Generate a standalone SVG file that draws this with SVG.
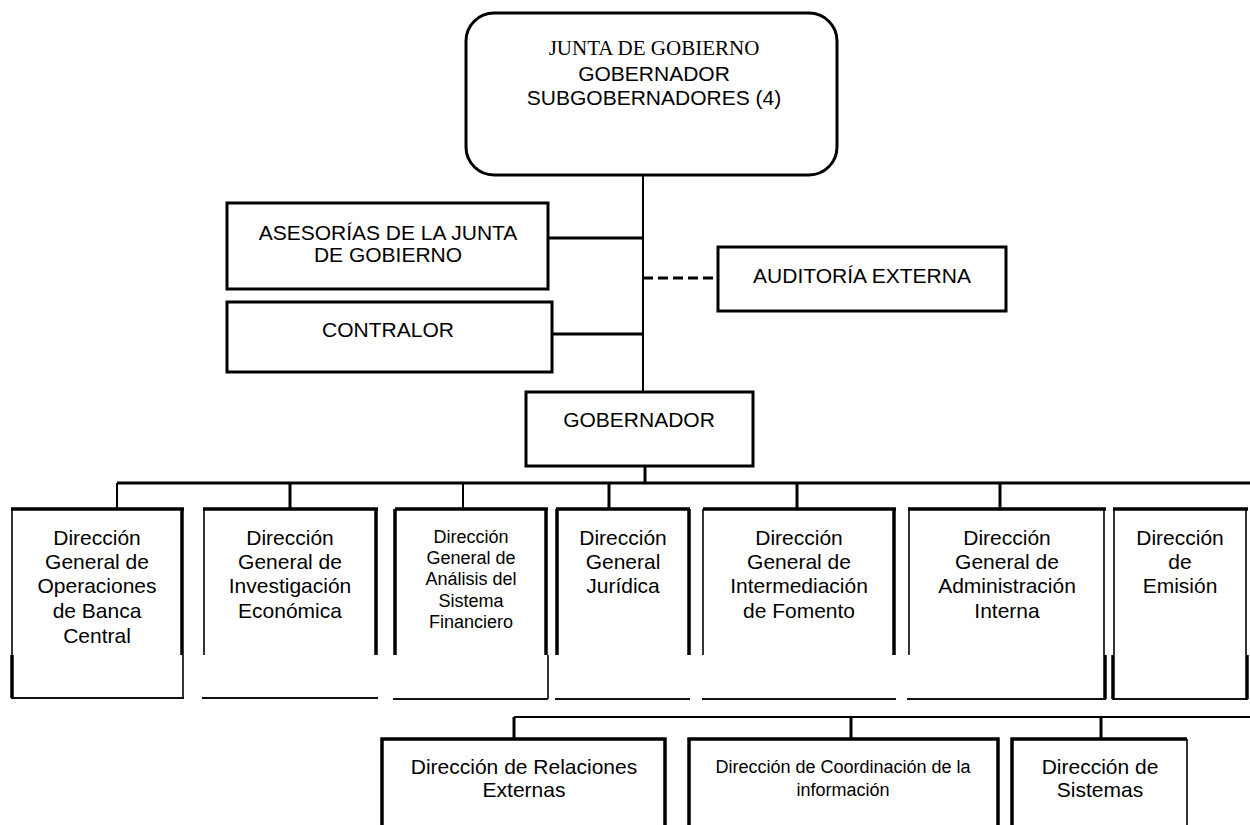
<svg xmlns="http://www.w3.org/2000/svg" width="1250" height="825" viewBox="0 0 1250 825">
<style>
  .t{font-family:"Liberation Sans",Arial,sans-serif;font-size:21px;fill:#000;text-anchor:middle}
  .s{font-size:18px}
  .serif{font-family:"Liberation Serif","Times New Roman",serif}
  .box{fill:#fff;stroke:#000;stroke-width:3}
  .k{stroke:#000;stroke-width:3.5;fill:none}
  .n{stroke:#000;stroke-width:1.6;fill:none}
  .b{stroke:#111;stroke-width:2;fill:none}
  .c{stroke:#000;stroke-width:2;fill:none}
  .ck{stroke:#000;stroke-width:3;fill:none}
  .d{stroke:#000;stroke-width:3;fill:none;stroke-dasharray:10 5}
</style>
<rect width="1250" height="825" fill="#fff"/>
<g id="connectors">
  <line class="c" x1="643" y1="175" x2="643" y2="392"/>
  <line class="ck" x1="548" y1="238" x2="643" y2="238"/>
  <line class="ck" x1="552" y1="334" x2="643" y2="334"/>
  <line class="d" x1="643" y1="278" x2="718" y2="278"/>
  <line class="ck" x1="645" y1="466" x2="645" y2="483"/>
  <line class="ck" x1="117" y1="483" x2="1250" y2="483"/>
  <line class="c" x1="117" y1="483" x2="117" y2="509"/>
  <line class="ck" x1="290" y1="483" x2="290" y2="509"/>
  <line class="c" x1="463" y1="483" x2="463" y2="509"/>
  <line class="ck" x1="609" y1="483" x2="609" y2="509"/>
  <line class="ck" x1="797" y1="483" x2="797" y2="509"/>
  <line class="ck" x1="1000" y1="483" x2="1000" y2="509"/>
  <line class="c" x1="514" y1="717" x2="1250" y2="717"/>
  <line class="ck" x1="514" y1="717" x2="514" y2="739"/>
  <line class="ck" x1="851" y1="717" x2="851" y2="739"/>
  <line class="ck" x1="1101" y1="717" x2="1101" y2="739"/>
</g>
<g id="junta">
  <rect class="box" x="466" y="13" width="371" height="162" rx="28"/>
  <text class="t serif" x="654" y="55">JUNTA DE GOBIERNO</text>
  <text class="t" x="654" y="81">GOBERNADOR</text>
  <text class="t" x="654" y="105">SUBGOBERNADORES (4)</text>
</g>
<g id="asesorias">
  <rect class="box" x="227" y="203" width="321" height="86"/>
  <text class="t" x="388" y="240">ASESORÍAS DE LA JUNTA</text>
  <text class="t" x="388" y="262">DE GOBIERNO</text>
</g>
<g id="contralor">
  <rect class="box" x="227" y="302" width="325" height="70"/>
  <text class="t" x="388" y="337">CONTRALOR</text>
</g>
<g id="auditoria">
  <rect class="box" x="718" y="247" width="288" height="64"/>
  <text class="t" x="862" y="283">AUDITORÍA EXTERNA</text>
</g>
<g id="gobernador">
  <rect class="box" x="526" y="392" width="227" height="74"/>
  <text class="t" x="639" y="427">GOBERNADOR</text>
</g>
<g id="dg-operaciones">
  <line class="k" x1="11" y1="509" x2="184" y2="509"/>
  <line class="n" x1="12" y1="509" x2="12" y2="655"/>
  <line class="k" x1="12" y1="655" x2="12" y2="698"/>
  <line class="k" x1="182" y1="509" x2="182" y2="655"/>
  <line class="n" x1="183" y1="655" x2="183" y2="698"/>
  <line class="b" x1="11" y1="698" x2="184" y2="698"/>
  <text class="t" x="97" y="545">Dirección</text>
  <text class="t" x="97" y="569">General de</text>
  <text class="t" x="97" y="593">Operaciones</text>
  <text class="t" x="97" y="618">de Banca</text>
  <text class="t" x="97" y="643">Central</text>
</g>
<g id="dg-investigacion">
  <line class="k" x1="203" y1="509" x2="378" y2="509"/>
  <line class="n" x1="204" y1="509" x2="204" y2="655"/>
  <line class="k" x1="376" y1="509" x2="376" y2="655"/>
  <line class="b" x1="202" y1="698" x2="378" y2="698"/>
  <text class="t" x="290" y="545">Dirección</text>
  <text class="t" x="290" y="569">General de</text>
  <text class="t" x="290" y="593">Investigación</text>
  <text class="t" x="290" y="618">Económica</text>
</g>
<g id="dg-analisis">
  <line class="k" x1="395" y1="509" x2="548" y2="509"/>
  <line class="k" x1="395" y1="509" x2="395" y2="655"/>
  <line class="k" x1="546" y1="509" x2="546" y2="655"/>
  <line class="n" x1="548" y1="655" x2="548" y2="699"/>
  <line class="b" x1="393" y1="699" x2="548" y2="699"/>
  <text class="t s" x="471" y="543">Dirección</text>
  <text class="t s" x="471" y="564">General de</text>
  <text class="t s" x="471" y="585">Análisis del</text>
  <text class="t s" x="471" y="607">Sistema</text>
  <text class="t s" x="471" y="628">Financiero</text>
</g>
<g id="dg-juridica">
  <line class="k" x1="556" y1="509" x2="690" y2="509"/>
  <line class="k" x1="557" y1="509" x2="557" y2="655"/>
  <line class="k" x1="689" y1="509" x2="689" y2="655"/>
  <line class="b" x1="555" y1="699" x2="690" y2="699"/>
  <text class="t" x="623" y="545">Dirección</text>
  <text class="t" x="623" y="569">General</text>
  <text class="t" x="623" y="593">Jurídica</text>
</g>
<g id="dg-intermediacion">
  <line class="k" x1="703" y1="509" x2="896" y2="509"/>
  <line class="n" x1="703" y1="509" x2="703" y2="655"/>
  <line class="k" x1="894" y1="509" x2="894" y2="655"/>
  <line class="b" x1="702" y1="699" x2="896" y2="699"/>
  <text class="t" x="799" y="545">Dirección</text>
  <text class="t" x="799" y="569">General de</text>
  <text class="t" x="799" y="593">Intermediación</text>
  <text class="t" x="799" y="618">de Fomento</text>
</g>
<g id="dg-administracion">
  <line class="k" x1="908" y1="509" x2="1106" y2="509"/>
  <line class="n" x1="909" y1="509" x2="909" y2="655"/>
  <line class="n" x1="1104" y1="509" x2="1104" y2="655"/>
  <line class="k" x1="1105" y1="655" x2="1105" y2="699"/>
  <line class="b" x1="907" y1="699" x2="1106" y2="699"/>
  <text class="t" x="1007" y="545">Dirección</text>
  <text class="t" x="1007" y="569">General de</text>
  <text class="t" x="1007" y="593">Administración</text>
  <text class="t" x="1007" y="618">Interna</text>
</g>
<g id="d-emision">
  <line class="k" x1="1113" y1="509" x2="1248" y2="509"/>
  <line class="n" x1="1114" y1="509" x2="1114" y2="655"/>
  <line class="k" x1="1113" y1="655" x2="1113" y2="699"/>
  <line class="n" x1="1246" y1="509" x2="1246" y2="655"/>
  <line class="k" x1="1247" y1="655" x2="1247" y2="699"/>
  <line class="b" x1="1112" y1="699" x2="1248" y2="699"/>
  <text class="t" x="1180" y="545">Dirección</text>
  <text class="t" x="1180" y="569">de</text>
  <text class="t" x="1180" y="593">Emisión</text>
</g>
<g id="d-relaciones">
  <path class="k" d="M382,830 V739 H665 V830"/>
  <text class="t" x="524" y="774">Dirección de Relaciones</text>
  <text class="t" x="524" y="797">Externas</text>
</g>
<g id="d-coordinacion">
  <path class="k" d="M689,830 V739 H998 V830"/>
  <text class="t s" x="843" y="773">Dirección de Coordinación de la</text>
  <text class="t s" x="843" y="796">información</text>
</g>
<g id="d-sistemas">
  <path class="k" d="M1012,830 V739 H1187"/>
  <line class="n" x1="1187" y1="739" x2="1187" y2="830"/>
  <text class="t" x="1100" y="774">Dirección de</text>
  <text class="t" x="1100" y="797">Sistemas</text>
</g>
</svg>
